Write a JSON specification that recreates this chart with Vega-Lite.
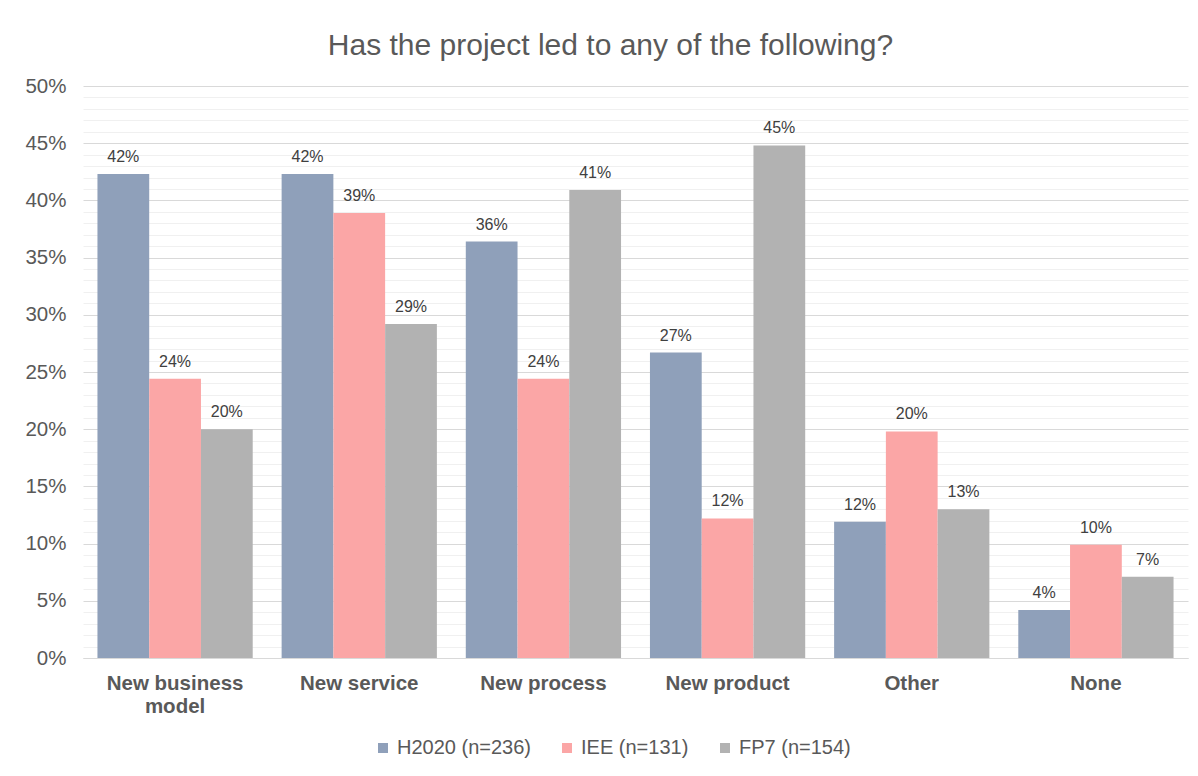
{
  "$schema": "https://vega.github.io/schema/vega-lite/v6.json",
  "width": 1105,
  "height": 572,
  "autosize": "none",
  "padding": {"left": 83, "top": 86, "right": 10, "bottom": 118},
  "background": "white",
  "title": {
    "text": "Has the project led to any of the following?",
    "fontSize": 30,
    "font": "Liberation Sans",
    "fontWeight": "normal",
    "color": "#595959",
    "anchor": "middle",
    "dx": -25,
    "offset": 15
  },
  "config": {
    "view": {"stroke": null},
    "font": "Liberation Sans"
  },
  "data": {
    "values": [
      {"category": "New business model", "series": "H2020 (n=236)", "value": 0.423},
      {"category": "New business model", "series": "IEE (n=131)", "value": 0.244},
      {"category": "New business model", "series": "FP7 (n=154)", "value": 0.200},
      {"category": "New service", "series": "H2020 (n=236)", "value": 0.423},
      {"category": "New service", "series": "IEE (n=131)", "value": 0.389},
      {"category": "New service", "series": "FP7 (n=154)", "value": 0.292},
      {"category": "New process", "series": "H2020 (n=236)", "value": 0.364},
      {"category": "New process", "series": "IEE (n=131)", "value": 0.244},
      {"category": "New process", "series": "FP7 (n=154)", "value": 0.409},
      {"category": "New product", "series": "H2020 (n=236)", "value": 0.267},
      {"category": "New product", "series": "IEE (n=131)", "value": 0.122},
      {"category": "New product", "series": "FP7 (n=154)", "value": 0.448},
      {"category": "Other", "series": "H2020 (n=236)", "value": 0.119},
      {"category": "Other", "series": "IEE (n=131)", "value": 0.198},
      {"category": "Other", "series": "FP7 (n=154)", "value": 0.130},
      {"category": "None", "series": "H2020 (n=236)", "value": 0.042},
      {"category": "None", "series": "IEE (n=131)", "value": 0.099},
      {"category": "None", "series": "FP7 (n=154)", "value": 0.071}
    ]
  },
  "encoding": {
    "x": {
      "field": "category",
      "type": "nominal",
      "sort": null,
      "scale": {"paddingInner": 0.157, "paddingOuter": 0.0785},
      "axis": {
        "title": null,
        "labelAngle": 0,
        "labelFontSize": 20.5,
        "labelFontWeight": "bold",
        "labelColor": "#595959",
        "labelPadding": 15,
        "labelLineHeight": 23,
        "labelExpr": "datum.label == 'New business model' ? ['New business', 'model'] : datum.label",
        "ticks": false,
        "domainColor": "#D9D9D9",
        "domainWidth": 1
      }
    },
    "xOffset": {"field": "series", "type": "nominal", "sort": null, "scale": {"paddingInner": 0, "paddingOuter": 0}},
    "y": {
      "field": "value",
      "type": "quantitative",
      "scale": {"domain": [0, 0.5], "nice": false},
      "axis": {
        "title": null,
        "format": ".0%",
        "values": [0,0.01,0.02,0.03,0.04,0.05,0.06,0.07,0.08,0.09,0.1,0.11,0.12,0.13,0.14,0.15,0.16,0.17,0.18,0.19,0.2,0.21,0.22,0.23,0.24,0.25,0.26,0.27,0.28,0.29,0.3,0.31,0.32,0.33,0.34,0.35,0.36,0.37,0.38,0.39,0.4,0.41,0.42,0.43,0.44,0.45,0.46,0.47,0.48,0.49,0.5],
        "labelExpr": "round(datum.value*100) % 5 === 0 ? datum.label : ''",
        "labelFontSize": 20.5,
        "labelColor": "#595959",
        "labelPadding": 17,
        "ticks": false,
        "domain": false,
        "gridColor": {"condition": {"test": "round(datum.value*100) % 5 === 0", "value": "#D9D9D9"}, "value": "#F0F0F0"},
        "gridWidth": 1
      }
    }
  },
  "layer": [
    {
      "mark": {"type": "bar"},
      "encoding": {
        "color": {
          "field": "series",
          "type": "nominal",
          "sort": null,
          "scale": {
            "domain": ["H2020 (n=236)", "IEE (n=131)", "FP7 (n=154)"],
            "range": ["#8FA0BA", "#FBA6A6", "#B2B2B2"]
          },
          "legend": {
            "title": null,
            "orient": "none",
            "legendX": 290,
            "legendY": 652,
            "direction": "horizontal",
            "symbolType": "square",
            "symbolSize": 100,
            "symbolStrokeWidth": 0,
            "labelFontSize": 20,
            "labelColor": "#595959",
            "columnPadding": 26,
            "labelOffset": 4
          }
        }
      }
    },
    {
      "mark": {"type": "text", "baseline": "bottom", "dy": -9, "fontSize": 16, "color": "#404040"},
      "encoding": {
        "text": {"field": "value", "type": "quantitative", "format": ".0%"}
      }
    }
  ]
}
